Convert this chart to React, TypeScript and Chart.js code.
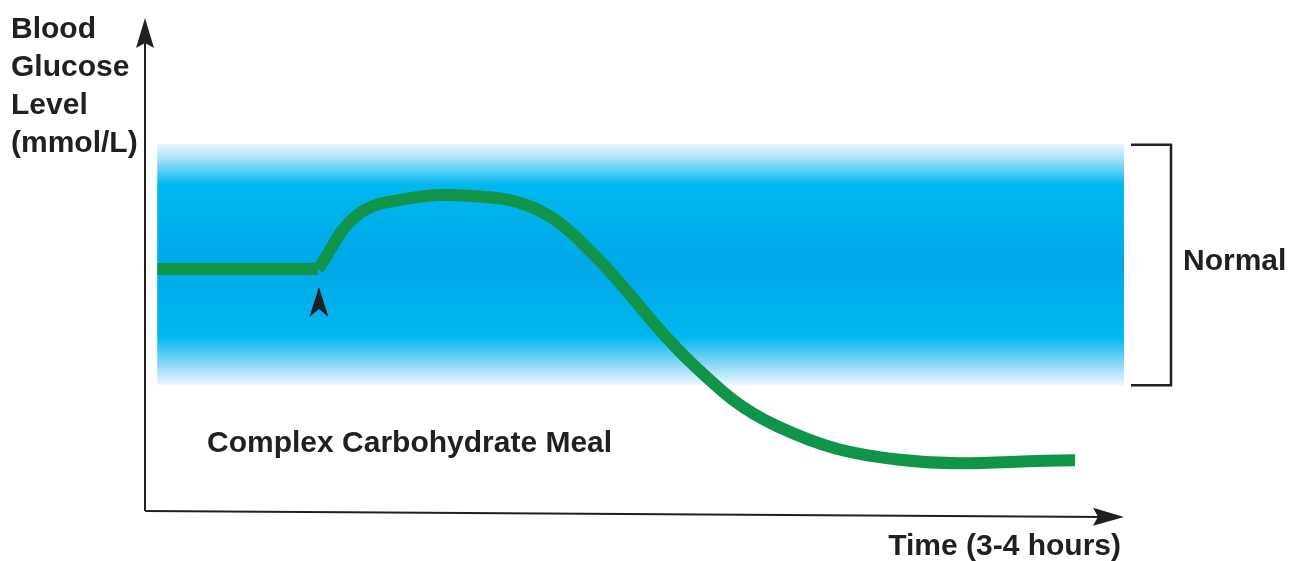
import React, { useEffect, useRef } from 'react';
import Chart from 'chart.js/auto';

// Time in minutes, level in arbitrary glucose units (axis is unlabelled)
const baselineTimes = [3, 42.4];
const baselineLevels = [4.91, 4.91];
const mealTimes = [42.4, 52, 64, 80, 96, 110, 134, 155, 185, 228];
const mealLevels = [4.91, 6.0, 6.33, 6.39, 6.12, 5.2, 3.0, 1.72, 1.04, 1.03];
const normalRange = [2.55, 7.45];
const bandTimes = [3, 240];
const mealTime = 42.4;

const yTitleLines = ['Blood', 'Glucose', 'Level', '(mmol/L)'];
const xTitle = 'Time (3-4 hours)';
const mealLabel = 'Complex Carbohydrate Meal';
const normalLabel = 'Normal';

const INK = '#231f20';
const GREEN = '#10944a';
const FONT = 'bold 30px "Liberation Sans", Arial, sans-serif';

function arrowHead(ctx: CanvasRenderingContext2D, tx: number, ty: number, angle: number, len: number, half: number, notch: number) {
  ctx.save();
  ctx.translate(tx, ty);
  ctx.rotate(angle);
  ctx.beginPath();
  ctx.moveTo(0, 0);
  ctx.lineTo(-len, -half);
  ctx.lineTo(-len + notch, 0);
  ctx.lineTo(-len, half);
  ctx.closePath();
  ctx.fillStyle = INK;
  ctx.fill();
  ctx.restore();
}

const decor = {
  id: 'decor',
  beforeDatasetsDraw(chart: any) {
    const { ctx, scales } = chart;
    const x = scales.x, y = scales.y;
    const x0 = x.getPixelForValue(bandTimes[0]);
    const x1 = x.getPixelForValue(bandTimes[1]);
    const yTop = y.getPixelForValue(normalRange[1]);
    const yBot = y.getPixelForValue(normalRange[0]);
    const g = ctx.createLinearGradient(0, yTop, 0, yBot);
    g.addColorStop(0, '#eaf8fe');
    g.addColorStop(0.06, '#a8e2f9');
    g.addColorStop(0.17, '#00b8ef');
    g.addColorStop(0.5, '#00a8e8');
    g.addColorStop(0.8, '#00b8ef');
    g.addColorStop(0.92, '#93d9f6');
    g.addColorStop(1, '#eef9fe');
    ctx.save();
    ctx.fillStyle = g;
    ctx.fillRect(x0, yTop, x1 - x0, yBot - yTop);
    ctx.restore();
  },
  afterDraw(chart: any) {
    const { ctx, chartArea, scales } = chart;
    const x = scales.x, y = scales.y;
    const { left, right, top, bottom } = chartArea;
    ctx.save();
    ctx.strokeStyle = INK;
    ctx.lineWidth = 2;
    // y axis
    ctx.beginPath();
    ctx.moveTo(left, bottom);
    ctx.lineTo(left, top + 20);
    ctx.stroke();
    arrowHead(ctx, left, top, -Math.PI / 2, 30, 9, 5);
    // x axis (slightly sloped as in the drawing)
    const rise = 6;
    ctx.beginPath();
    ctx.moveTo(left, bottom);
    ctx.lineTo(right - 20, bottom + rise * (right - 20 - left) / (right - left));
    ctx.stroke();
    arrowHead(ctx, right, bottom + rise, Math.atan2(rise, right - left), 31, 9, 5);

    // bracket for normal range
    const yTop = y.getPixelForValue(normalRange[1]);
    const yBot = y.getPixelForValue(normalRange[0]);
    const bx = x.getPixelForValue(bandTimes[1]);
    ctx.lineWidth = 2.5;
    ctx.beginPath();
    ctx.moveTo(bx + 7, yTop + 1);
    ctx.lineTo(bx + 47, yTop + 1);
    ctx.lineTo(bx + 47, yBot);
    ctx.lineTo(bx + 7, yBot);
    ctx.stroke();

    // meal marker arrow
    const mx = x.getPixelForValue(mealTime);
    const my = y.getPixelForValue(baselineLevels[0]);
    arrowHead(ctx, mx + 1, my + 18, -Math.PI / 2, 30, 9.5, 8);

    // texts
    ctx.fillStyle = INK;
    ctx.font = FONT;
    ctx.textBaseline = 'alphabetic';
    ctx.textAlign = 'left';
    yTitleLines.forEach((t, i) => ctx.fillText(t, 11, 38 + i * 38));
    ctx.fillText(normalLabel, bx + 59, (yTop + yBot) / 2 + 5);
    ctx.fillText(mealLabel, left + 62, 452);
    ctx.textAlign = 'right';
    ctx.fillText(xTitle, right - 3, 555);
    ctx.restore();
  },
};

export default function App() {
  const ref = useRef<HTMLCanvasElement | null>(null);
  useEffect(() => {
    if (!ref.current) return;
    const chart = new Chart(ref.current, {
      type: 'line',
      data: {
        datasets: [
          {
            label: 'Fasting',
            data: baselineTimes.map((t, i) => ({ x: t, y: baselineLevels[i] })),
            borderColor: GREEN,
            borderWidth: 12,
            pointRadius: 0,
            tension: 0,
            borderCapStyle: 'butt',
          },
          {
            label: 'After complex carbohydrate meal',
            data: mealTimes.map((t, i) => ({ x: t, y: mealLevels[i] })),
            borderColor: GREEN,
            borderWidth: 12,
            pointRadius: 0,
            tension: 0.4,
            borderCapStyle: 'butt',
          },
        ],
      },
      options: {
        responsive: false,
        animation: false,
        layout: { padding: { left: 145, right: 174, top: 18, bottom: 50 } },
        scales: {
          x: { type: 'linear', min: 0, max: 240, display: false },
          y: { min: 0, max: 10, display: false },
        },
        plugins: { legend: { display: false }, tooltip: { enabled: false } },
        events: [],
      },
      plugins: [decor],
    } as any);
    return () => chart.destroy();
  }, []);
  return (
    <div style={{ position: 'fixed', left: 0, top: 0, width: 1298, height: 561, background: '#fff' }}>
      <canvas ref={ref} width={1298} height={561} style={{ width: 1298, height: 561, display: 'block' }} />
    </div>
  );
}
